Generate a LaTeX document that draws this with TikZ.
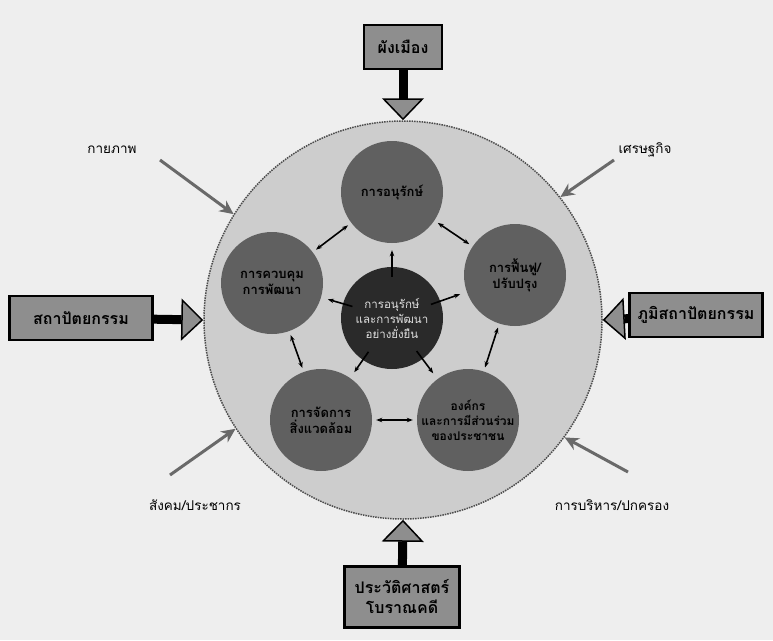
\documentclass[tikz,border=0pt]{standalone}
\usepackage{fontspec}
\newfontfamily\thaifont[Script=Thai]{Loma}
\usetikzlibrary{arrows.meta, positioning}
\definecolor{papergray}{RGB}{238,238,238}
\definecolor{ringgray}{RGB}{205,205,205}
\definecolor{topicgray}{RGB}{96,96,96}
\definecolor{coregray}{RGB}{42,42,42}
\definecolor{boxgray}{RGB}{142,142,142}
\definecolor{pointgray}{RGB}{105,105,105}

\begin{document}
\begin{tikzpicture}[x=1pt, y=-1pt,
    topic/.style={circle, fill=topicgray, minimum size=102pt, inner sep=0pt,
                  align=center, font=\thaifont\bfseries\fontsize{13}{16}\selectfont},
    core/.style={circle, fill=coregray, minimum size=102pt, inner sep=0pt,
                 align=center, text=gray!25, font=\thaifont\fontsize{11.5}{15}\selectfont},
    field/.style={draw=black, line width=2.5pt, fill=boxgray, minimum height=44pt,
                  inner xsep=6pt, align=center, font=\thaifont\bfseries\fontsize{16}{20}\selectfont},
    aspect/.style={font=\thaifont\fontsize{13.5}{16}\selectfont},
    feed/.style={line width=9pt, black,
                 -{Triangle[length=22pt, width=42pt, fill=boxgray, line width=1.5pt]}},
    push/.style={pointgray, line width=3pt, -{Stealth[length=14pt, width=13pt]}},
    link/.style={black, line width=1.6pt, {Stealth[length=6pt]}-{Stealth[length=6pt]},
                 shorten <=4pt, shorten >=4pt},
    spoke/.style={black, line width=1.6pt, -{Stealth[length=6pt]},
                  shorten <=-10pt, shorten >=7pt}
  ]
  \fill[papergray] (0,0) rectangle (773,640);
  \useasboundingbox (0,0) rectangle (773,640);

  % outer ring
  \node[circle, minimum size=398pt, fill=ringgray, draw=gray!60!black,
        densely dotted, line width=1.5pt] (ring) at (403,320) {};

  % topics
  \node[topic] (keep)   at (392,192) {การอนุรักษ์};
  \node[topic] (ctrl)   at (272,283) {การควบคุม\\การพัฒนา};
  \node[topic] (revive) at (515,275) {การฟื้นฟู/\\ปรับปรุง};
  \node[topic] (env)    at (321,420) {การจัดการ\\สิ่งแวดล้อม};
  \node[topic, font=\thaifont\bfseries\fontsize{12}{15}\selectfont] (people) at (468,420)
        {องค์กร\\และการมีส่วนร่วม\\ของประชาชน};
  \node[core]  (center) at (392,318) {การอนุรักษ์\\และการพัฒนา\\อย่างยั่งยืน};

  % fields
  \node[field, minimum width=78pt] (plan) at (403,47) {ผังเมือง};
  \node[field, minimum width=143pt] (arch) at (81,318) {สถาปัตยกรรม};
  \node[field, minimum width=133pt] (land) at (696,315) {ภูมิสถาปัตยกรรม};
  \node[field, minimum width=115pt, minimum height=61pt] (hist) at (402,597)
        {ประวัติศาสตร์\\โบราณคดี};

  \draw[feed] (plan) -- (ring.north);
  \draw[feed] (arch) -- (ring.west);
  \draw[feed] (land) -- (ring.east);
  \draw[feed] (hist) -- (ring.south);

  % aspects
  \node[aspect] (phys)  at (112,150) {กายภาพ};
  \node[aspect] (econ)  at (645,150) {เศรษฐกิจ};
  \node[aspect] (soc)   at (195,505) {สังคม/ประชากร};
  \node[aspect] (admin) at (612,505) {การบริหาร/ปกครอง};
  \coordinate (phys tail)  at (160,160);
  \coordinate (econ tail)  at (614,160);
  \coordinate (soc tail)   at (170,475);
  \coordinate (admin tail) at (628,472);

  \draw[push] (phys tail)  -- (ring.148);
  \draw[push] (econ tail)  -- (ring.38);
  \draw[push] (soc tail)   -- (ring.213);
  \draw[push] (admin tail) -- (ring.324);

  % links between topics
  \draw[link] (keep) -- (ctrl);
  \draw[link] (keep) -- (revive);
  \draw[link] (ctrl) -- (env);
  \draw[link] (revive) -- (people);
  \draw[link] (env) -- (people);

  % spokes from the core
  \foreach \t in {keep, ctrl, revive, env, people}
    \draw[spoke] (center) -- (\t);
\end{tikzpicture}
\end{document}
